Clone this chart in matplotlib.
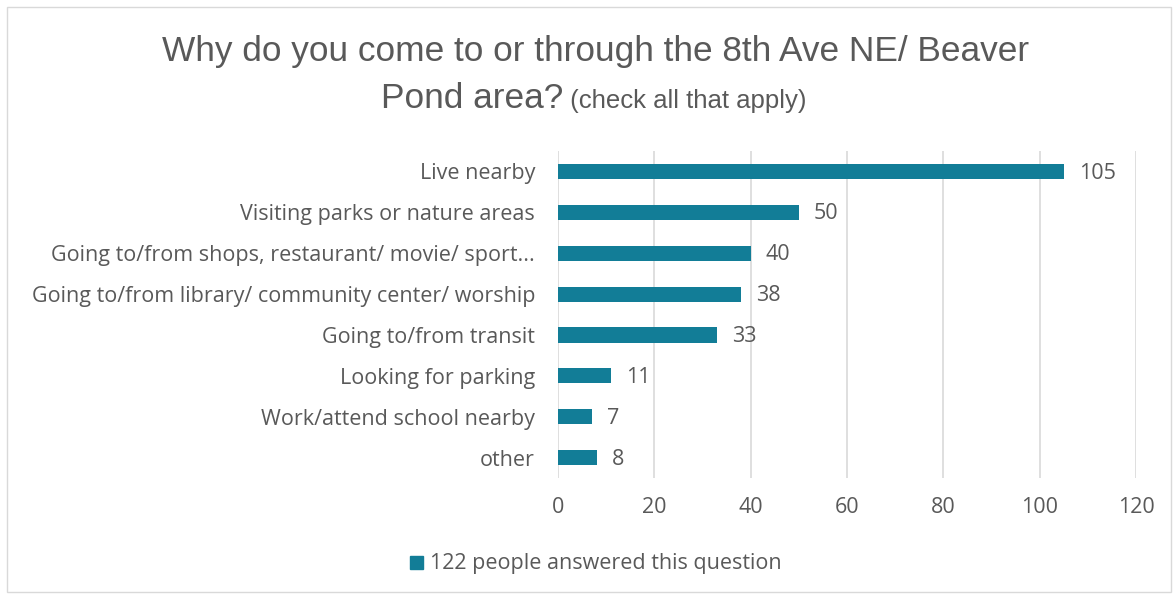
import matplotlib
matplotlib.use("Agg")
import matplotlib.pyplot as plt
from matplotlib.patches import Rectangle

categories = ["Live nearby",
              "Visiting parks or nature areas",
              "Going to/from shops, restaurant/ movie/ sport...",
              "Going to/from library/ community center/ worship",
              "Going to/from transit",
              "Looking for parking",
              "Work/attend school nearby",
              "other"]
counts = [105, 50, 40, 38, 33, 11, 7, 8]
xticks = [0, 20, 40, 60, 80, 100, 120]
legend_label = "122 people answered this question"

bar_color = "#127D97"
text_color = "#595959"
font = ["Open Sans", "DejaVu Sans"]
title_font = ["Liberation Sans", "DejaVu Sans"]
fs = 15.5

fig = plt.figure(figsize=(11.76, 5.96), dpi=100)
fig.patches.append(Rectangle((0.006, 0.006), 0.99, 0.982, transform=fig.transFigure,
                             fill=False, edgecolor="#D9D9D9", linewidth=1))

ax = fig.add_axes([0.4745, 0.198, 0.4915, 0.5486])
y = list(range(len(categories)))
ax.barh(y, counts, height=0.37, color=bar_color, zorder=3)
ax.set_ylim(len(categories) - 0.5, -0.5)
ax.set_xlim(0, 120)
ax.set_xticks(xticks)
ax.set_yticks(y)
ax.set_yticklabels(categories, family=font, fontsize=fs, color=text_color)
ax.tick_params(axis="y", length=0, pad=16.5)
ax.tick_params(axis="x", length=0, pad=14, labelsize=fs, labelcolor=text_color)
for lab in ax.get_xticklabels():
    lab.set_family(font)
ax.grid(axis="x", color="#D9D9D9", linewidth=1.2, zorder=0)
for s in ax.spines.values():
    s.set_visible(False)

for yi, v in zip(y, counts):
    ax.annotate(str(v), (v, yi), xytext=(11, -1.2), textcoords="offset points",
                va="center", ha="left", fontsize=fs, color=text_color, family=font)

# legend
fig.patches.append(Rectangle((410 / 1176, 1 - 569 / 596), 13 / 1176, 13 / 596,
                             transform=fig.transFigure, color=bar_color))
fig.text(430 / 1176, 1 - 563 / 596, legend_label, fontsize=fs, color=text_color,
         family=font, va="center", ha="left")

# title
fig.text(596 / 1176, 1 - 51 / 596, "Why do you come to or through the 8th Ave NE/ Beaver",
         fontsize=25.4, color=text_color, family=title_font, ha="center", va="center")
fig.canvas.draw()
r = fig.canvas.get_renderer()
t1 = fig.text(0, 1 - 108 / 596, "Pond area?", fontsize=25.4, color=text_color,
              family=title_font, ha="left", va="baseline")
t2 = fig.text(0, 1 - 108 / 596, " (check all that apply)", fontsize=18.5, color=text_color,
              family=title_font, ha="left", va="baseline")
w1 = t1.get_window_extent(r).width
w2 = t2.get_window_extent(r).width
x0 = 594 - (w1 + w2) / 2
t1.set_x(x0 / 1176)
t2.set_x((x0 + w1) / 1176)

fig.savefig("out.png", dpi=100)
